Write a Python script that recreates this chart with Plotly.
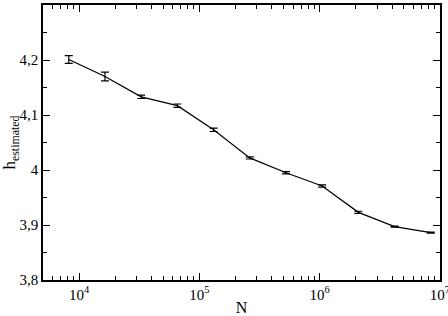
import plotly.graph_objects as go
import math

N = [8192, 16384, 32768, 65536, 131072, 262144, 524288, 1048576, 2097152, 4194304, 8388608]
h = [4.201, 4.170, 4.133, 4.117, 4.073, 4.022, 3.995, 3.971, 3.923, 3.897, 3.886]
err = [0.007, 0.008, 0.003, 0.003, 0.003, 0.002, 0.002, 0.002, 0.002, 0.001, 0.001]

xtickvals = [1e4, 1e5, 1e6, 1e7]
xticktext = ["10<sup>4</sup>", "10<sup>5</sup>", "10<sup>6</sup>", "10<sup>7</sup>"]
ytickvals = [3.8, 3.9, 4.0, 4.1, 4.2]

fig = go.Figure()
fig.add_trace(go.Scatter(
    x=N, y=h, mode="lines",
    line=dict(color="black", width=1.2),
    error_y=dict(type="data", array=err, visible=True, color="black", thickness=1.2, width=4),
    showlegend=False,
))

font = dict(family="Liberation Serif", size=15, color="black")
fig.update_layout(
    width=448, height=316,
    margin=dict(l=43, r=8, t=5, b=36, autoexpand=False),
    paper_bgcolor="white", plot_bgcolor="white",
    separators=", ",
    font=font,
    xaxis=dict(
        type="log", range=[math.log10(5000), 7.0005],
        tickvals=xtickvals, ticktext=xticktext,
        ticklabeloverflow="allow", automargin=False,
        ticks="inside", ticklen=7, tickwidth=1.2, tickcolor="black",
        showline=True, linecolor="black", linewidth=1.5, mirror="allticks",
        showgrid=False, zeroline=False,
        minor=dict(ticks="inside", ticklen=4, tickwidth=1, tickcolor="black", dtick="D1", showgrid=False),
        title=dict(text="N", font=dict(family="Liberation Serif", size=16, color="black"), standoff=2),
        tickfont=font,
    ),
    yaxis=dict(
        range=[3.8, 4.3],
        tickvals=ytickvals, automargin=False,
        ticks="inside", ticklen=7, tickwidth=1.2, tickcolor="black",
        showline=True, linecolor="black", linewidth=1.5, mirror="allticks",
        showgrid=False, zeroline=False,
        minor=dict(ticks="inside", ticklen=4, tickwidth=1, tickcolor="black", dtick=0.05, showgrid=False),
        title=dict(text="h<sub>estimated</sub>", font=dict(family="Liberation Serif", size=17, color="black"), standoff=5),
        tickfont=font,
    ),
)
fig.write_html("out.html")
